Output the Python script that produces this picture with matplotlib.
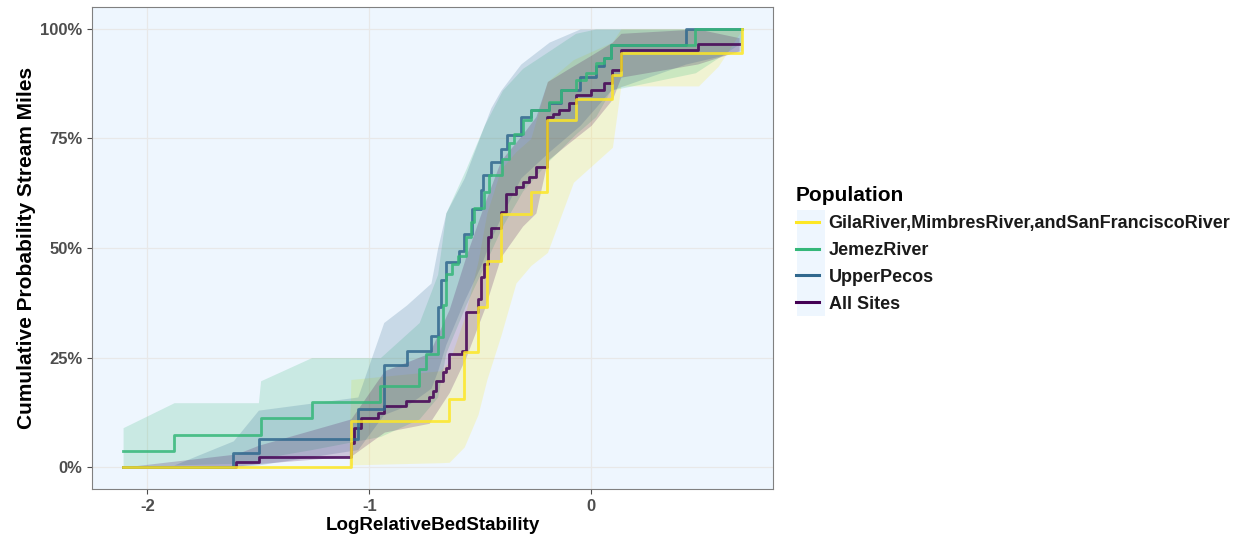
import numpy as np
import matplotlib
matplotlib.use("Agg")
import matplotlib.pyplot as plt
from matplotlib.lines import Line2D
from matplotlib.patches import Rectangle
from matplotlib.ticker import PercentFormatter

plt.rcParams["font.family"] = ["Liberation Sans", "DejaVu Sans"]
plt.rcParams["axes.unicode_minus"] = False

# step curves (x of each step, cumulative % after the step)
gila_x = [-2.11, -1.083, -0.640, -0.572, -0.510, -0.470, -0.407, -0.272, -0.197, -0.070, 0.096, 0.134, 0.682]
gila_y = [0, 10.5, 15.5, 26.2, 36.5, 47.1, 57.8, 62.8, 79.2, 84.1, 89.5, 94.6, 100]

jemez_x = [-2.11, -1.88, -1.49, -1.26, -0.95, -0.775, -0.745, -0.692, -0.670, -0.655, -0.625, -0.602,
           -0.565, -0.542, -0.527, -0.482, -0.459, -0.400, -0.369, -0.347, -0.309, -0.272, -0.189,
           -0.137, -0.070, -0.024, 0.021, 0.059, 0.088, 0.470, 0.680]
jemez_y = [3.6, 7.3, 11.1, 14.8, 18.5, 22.3, 25.8, 29.6, 37.0, 44.1, 46.4, 48.1, 52.5, 55.9, 59.2,
           62.8, 66.6, 70.4, 74.0, 76.1, 79.2, 81.5, 83.4, 86.0, 88.3, 89.9, 92.2, 93.3, 96.3, 100, 100]

pecos_x = [-2.11, -1.613, -1.499, -1.052, -0.935, -0.832, -0.722, -0.692, -0.677, -0.655, -0.595,
           -0.572, -0.535, -0.497, -0.489, -0.452, -0.407, -0.380, -0.317, -0.272, -0.189, -0.137,
           -0.050, 0.020, 0.059, 0.088, 0.427, 0.680]
pecos_y = [0, 3.3, 6.5, 13.2, 23.3, 26.6, 30.0, 36.6, 42.6, 46.8, 49.4, 53.2, 59.0, 63.2, 66.6,
           69.6, 72.5, 75.7, 79.9, 81.5, 83.0, 86.0, 89.0, 91.5, 93.3, 96.3, 100, 100]

all_x = [-2.11, -1.600, -1.499, -1.083, -1.068, -1.037, -0.962, -0.932, -0.835, -0.730, -0.715,
         -0.700, -0.670, -0.655, -0.640, -0.580, -0.565, -0.512, -0.497, -0.482, -0.467, -0.452,
         -0.407, -0.384, -0.339, -0.309, -0.279, -0.249, -0.197, -0.174, -0.144, -0.100, -0.069,
         0.000, 0.060, 0.096, 0.134, 0.480, 0.667]
all_y = [0, 1.2, 2.3, 5.6, 9.0, 11.3, 12.4, 14.0, 15.1, 15.9, 17.4, 19.7, 21.6, 22.7, 25.8, 26.5,
         35.3, 38.4, 43.3, 46.4, 52.5, 54.5, 58.2, 62.4, 63.9, 65.0, 66.2, 68.5, 80.0, 80.7, 81.5,
         83.0, 85.0, 86.0, 87.6, 90.6, 95.3, 96.5, 96.5]

# confidence bands
gila_bx = [-2.11, -1.093, -1.083, -0.68, -0.640, -0.572, -0.510, -0.470, -0.407, -0.339, -0.272,
           -0.197, -0.080, 0.096, 0.134, 0.484, 0.573, 0.682]
gila_hi = [0, 0, 20, 22, 24, 34, 47, 58, 68, 72, 75, 88, 93, 97, 100, 100, 100, 100]
gila_lo = [0, 0, 0.5, 1, 1.1, 4.6, 12, 20, 30, 42, 46, 49, 65, 73, 87, 87, 91.5, 100]

jemez_bx = [-2.11, -1.88, -1.50, -1.49, -1.26, -0.95, -0.775, -0.692, -0.655, -0.565, -0.482, -0.40,
            -0.309, -0.189, -0.070, 0.021, 0.088, 0.470, 0.680]
jemez_hi = [9, 14.7, 14.7, 19.7, 25, 25, 33, 44, 58, 68, 78, 86, 91, 95, 99, 100, 100, 100, 100]
jemez_lo = [0, 0.5, 1, 2, 4, 7, 11, 16, 26, 37, 46, 55, 63, 70, 76, 80, 86, 90, 97]

pecos_bx = [-2.11, -1.88, -1.613, -1.50, -1.052, -0.935, -0.832, -0.722, -0.692, -0.655, -0.572,
            -0.497, -0.452, -0.407, -0.317, -0.189, -0.050, 0.088, 0.427, 0.680]
pecos_hi = [0, 0.5, 6, 13, 16, 33, 37, 42, 50, 58, 66, 76, 82, 86, 92, 97, 100, 100, 100, 100]
pecos_lo = [0, 0, 0, 0.5, 4, 12, 14, 18, 22, 28, 38, 46, 52, 57, 66, 72, 78, 86, 92, 95]

all_bx = [-2.11, -1.60, -1.499, -1.083, -0.932, -0.730, -0.640, -0.565, -0.482, -0.407, -0.309,
          -0.249, -0.197, -0.100, 0.0, 0.096, 0.134, 0.48, 0.667]
all_hi = [0, 3, 5, 11, 22, 26, 36, 48, 60, 70, 76, 80, 88, 91, 94, 97, 99, 100, 98]
all_lo = [0, 0.2, 0.8, 2.5, 8, 10, 17, 25, 36, 48, 55, 58, 70, 74, 78, 84, 89, 92, 95]

labels = ["GilaRiver,MimbresRiver,andSanFranciscoRiver", "JemezRiver", "UpperPecos", "All Sites"]
colors = ["#FDE725", "#35B779", "#31688E", "#440154"]

series = [
    (gila_x, gila_y, gila_bx, gila_lo, gila_hi),
    (jemez_x, jemez_y, jemez_bx, jemez_lo, jemez_hi),
    (pecos_x, pecos_y, pecos_bx, pecos_lo, pecos_hi),
    (all_x, all_y, all_bx, all_lo, all_hi),
]

fig = plt.figure(figsize=(12.47, 5.41), dpi=100)
ax = fig.add_axes([0.0738, 0.0961, 0.5461, 0.8909])
ax.set_facecolor("#EEF6FE")

for (x, y, bx, lo, hi), c in zip(series, colors):
    ax.fill_between(bx, lo, hi, color=c, alpha=0.2, linewidth=0)

# lines: purple at the bottom, yellow on top
for i in [3, 2, 1, 0]:
    x, y = series[i][0], series[i][1]
    ax.step(x, y, where="post", color=colors[i], linewidth=2.0, alpha=0.85)

ax.set_xlim(-2.25, 0.82)
ax.set_ylim(-5, 105)
ax.set_xticks([-2, -1, 0])
ax.set_yticks([0, 25, 50, 75, 100])
ax.yaxis.set_major_formatter(PercentFormatter(decimals=0))
ax.grid(True, color="#E8E8E8", linewidth=0.9)
ax.set_axisbelow(True)
for s in ax.spines.values():
    s.set_color("#808080")
    s.set_linewidth(0.8)
ax.tick_params(colors="#4D4D4D", length=3.5, width=0.8, labelsize=12)
for t in ax.get_xticklabels() + ax.get_yticklabels():
    t.set_fontweight("bold")
    t.set_color("#4D4D4D")

ax.set_xlabel("LogRelativeBedStability", fontsize=13.5, fontweight="bold", labelpad=2)
ax.set_ylabel("Cumulative Probability Stream Miles", fontsize=15, fontweight="bold", labelpad=3)

handles = [Line2D([0], [0], color=c, linewidth=2.2) for c in colors]
fig.patches.append(Rectangle((797 / 1247, 1 - 316 / 541), 28 / 1247, 106 / 541,
                             transform=fig.transFigure, facecolor="#EEF6FE", edgecolor="none", zorder=0))
leg = fig.legend(handles, labels, loc="upper left", bbox_to_anchor=(796 / 1247, 1 - 186 / 541),
                 frameon=False, title="Population", handlelength=1.25, handletextpad=0.55,
                 labelspacing=0.55, borderpad=0, borderaxespad=0,
                 prop={"weight": "bold", "size": 13},
                 title_fontproperties={"weight": "bold", "size": 15})
leg._legend_box.align = "left"
for t in leg.get_texts():
    t.set_color("#1A1A1A")

plt.savefig("out.png", dpi=100)
plt.close()
